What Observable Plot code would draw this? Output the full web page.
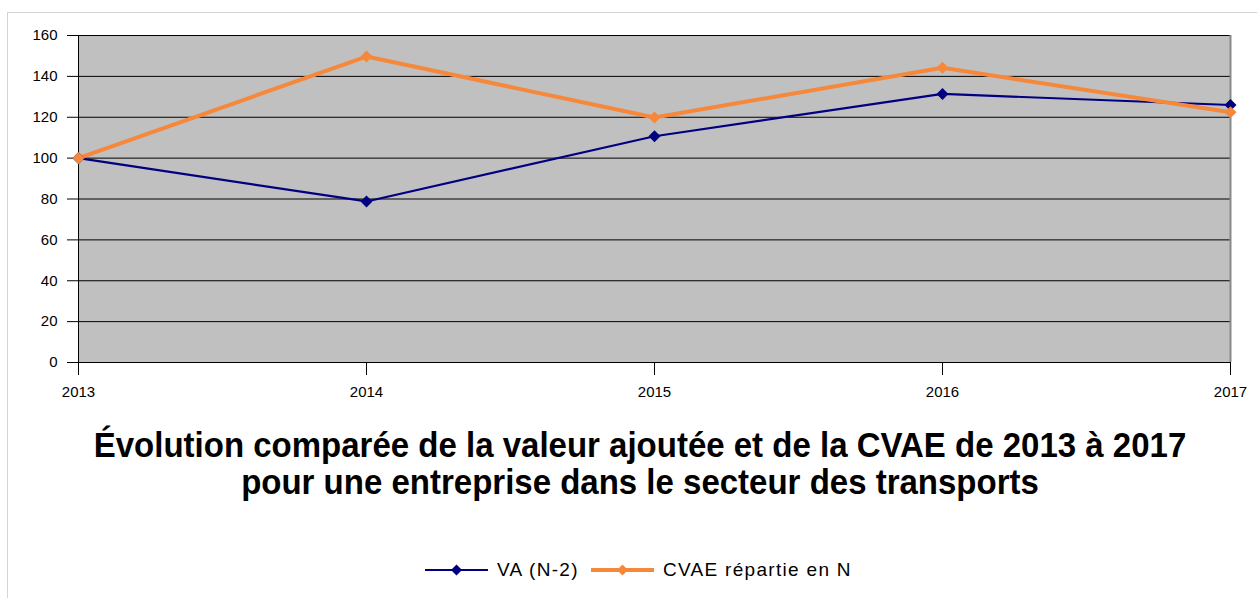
<!DOCTYPE html>
<html>
<head>
<meta charset="utf-8">
<script src="https://cdn.jsdelivr.net/npm/d3@7"></script>
<script src="https://cdn.jsdelivr.net/npm/@observablehq/plot@0.6"></script>
<style>
  html, body { margin: 0; padding: 0; background: #fff; }
  body { width: 1257px; height: 598px; position: relative; overflow: hidden; font-family: "Liberation Sans", Arial, sans-serif; }
  #frame { position: absolute; left: 7px; top: 12px; width: 1300px; height: 700px; border-left: 1px solid #d4d4d4; border-top: 1px solid #d4d4d4; }
  #chart { position: absolute; left: 0; top: 0; }
  .tline { position: absolute; left: 0; width: 1280px; text-align: center; font-weight: bold; font-size: 33px; line-height: 33px; color: #000; white-space: nowrap; transform: scaleY(1.09); transform-origin: 50% 28px; }
  #legend { position: absolute; top: 557px; left: 0; width: 1257px; height: 26px; }
  .item { position: absolute; top: 0; display: flex; align-items: center; font-size: 19px; letter-spacing: 1.3px; color: #000; height: 26px; white-space: nowrap; }
  .item svg { margin-right: 9px; }
</style>
</head>
<body>
<div id="frame"></div>
<div id="chart"></div>
<div class="tline" style="top:429px">Évolution comparée de la valeur ajoutée et de la CVAE de 2013 à 2017</div>
<div class="tline" style="top:466px">pour une entreprise dans le secteur des transports</div>
<div id="legend"></div>
<script>
const years = [2013, 2014, 2015, 2016, 2017];
const va = [100, 78.8, 110.7, 131.4, 126];
const cvae = [100, 149.7, 119.9, 144.2, 122.4];
const yTicks = [0, 20, 40, 60, 80, 100, 120, 140, 160];
const seriesNames = ["VA (N-2)", "CVAE répartie en N"];
const seriesColors = ["#000080", "#f5883a"];

const rows = [];
years.forEach((y, i) => {
  rows.push({year: y, value: va[i], series: seriesNames[0]});
  rows.push({year: y, value: cvae[i], series: seriesNames[1]});
});
const vaRows = rows.filter(d => d.series === seriesNames[0]);
const cvRows = rows.filter(d => d.series === seriesNames[1]);

const chart = Plot.plot({
  width: 1257,
  height: 410,
  marginLeft: 78,
  marginRight: 27,
  marginTop: 35,
  marginBottom: 48,
  style: {fontFamily: "'Liberation Sans', Arial, sans-serif", fontSize: "15px", color: "#000", background: "transparent"},
  x: {domain: [2013, 2017]},
  y: {domain: [0, 160]},
  marks: [
    Plot.frame({fill: "#c0c0c0", stroke: null}),
    Plot.ruleY(yTicks, {stroke: "#000", strokeWidth: 1}),
    Plot.ruleX([2017], {stroke: "#8a8a8a", strokeWidth: 2}),
    Plot.ruleX([2013], {stroke: "#000", strokeWidth: 1}),
    Plot.axisY({ticks: yTicks, tickSize: 11, tickPadding: 10, label: null, fontSize: 15}),
    Plot.axisX({ticks: years, tickFormat: d => String(d), tickSize: 13, tickPadding: 11, label: null, fontSize: 15}),
    Plot.line(vaRows, {x: "year", y: "value", stroke: seriesColors[0], strokeWidth: 2.2}),
    Plot.line(cvRows, {x: "year", y: "value", stroke: seriesColors[1], strokeWidth: 4}),
    Plot.dot(vaRows, {x: "year", y: "value", symbol: "square", rotate: 45, r: 4.8, fill: seriesColors[0], stroke: null}),
    Plot.dot(cvRows, {x: "year", y: "value", symbol: "square", rotate: 45, r: 4.8, fill: seriesColors[1], stroke: null})
  ]
});
document.getElementById("chart").appendChild(chart);

// Legend
const legend = document.getElementById("legend");
const lefts = [425, 591];
seriesNames.forEach((name, i) => {
  const item = document.createElement("div");
  item.className = "item";
  item.style.left = lefts[i] + "px";
  const sw = i === 0 ? 2 : 4;
  item.innerHTML = `<svg width="63" height="14"><line x1="0" x2="63" y1="7" y2="7" stroke="${seriesColors[i]}" stroke-width="${sw}"/><path d="M31.5,1.5 L37,7 L31.5,12.5 L26,7 Z" fill="${seriesColors[i]}"/></svg><span>${name}</span>`;
  legend.appendChild(item);
});
</script>
</body>
</html>
